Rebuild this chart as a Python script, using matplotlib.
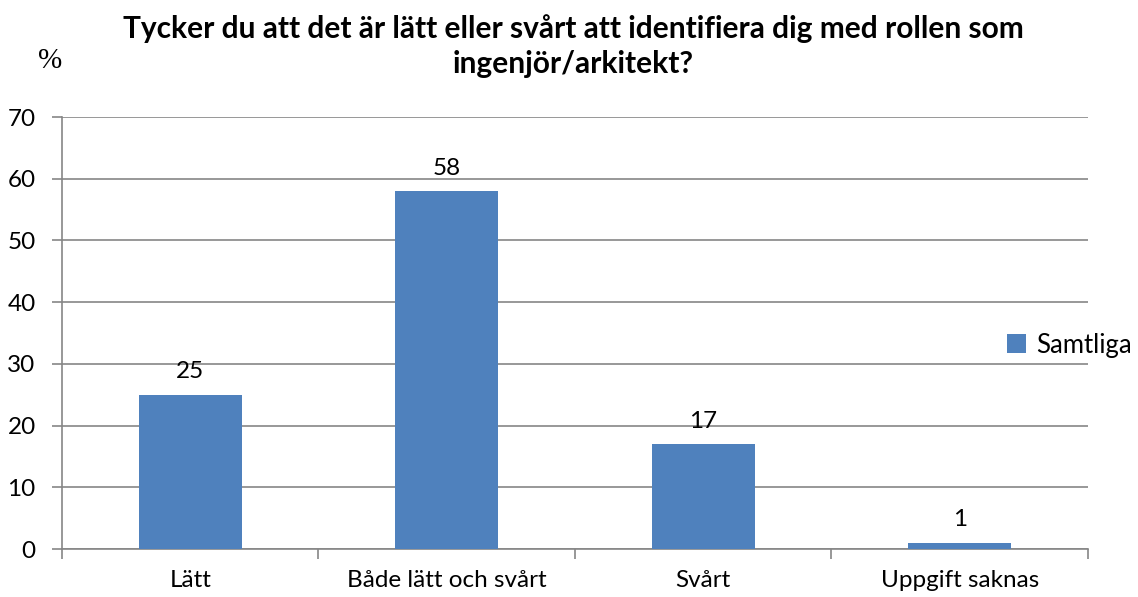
import matplotlib
matplotlib.use("Agg")
import matplotlib.pyplot as plt
import numpy as np

# Data
categories = ["Lätt", "Både lätt och svårt", "Svårt", "Uppgift saknas"]
values = [25, 58, 17, 1]
series_name = "Samtliga"
title = "Tycker du att det är lätt eller svårt att identifiera dig med rollen som\ningenjör/arkitekt?"

plt.rcParams["font.family"] = ["Lato", "DejaVu Sans"]
bar_color = "#4F81BD"
grid_color = "#868686"
fs = 17.5

fig = plt.figure(figsize=(11.38, 5.97), dpi=100)
ax = fig.add_axes([0.0545, 0.0804, 0.9015, 0.7236])

x = np.arange(len(categories))
bars = ax.bar(x, values, width=0.4, color=bar_color, label=series_name, zorder=3)

for xi, v in zip(x, values):
    ax.text(xi, v + 2.0, f"{v}", ha="center", va="bottom", fontsize=fs)

ax.set_xlim(-0.5, len(categories) - 0.5)
ax.set_ylim(0, 70)
ax.set_yticks(np.arange(0, 71, 10))
ax.yaxis.grid(True, color=grid_color, linewidth=1.2, zorder=0)
ax.tick_params(axis="y", labelsize=fs, length=7, width=1.2, color=grid_color, pad=12)

# category labels in the middle, ticks at the boundaries
ax.set_xticks(x)
ax.set_xticklabels(categories, fontsize=fs)
ax.tick_params(axis="x", length=0, pad=15)
ax.set_xticks(np.arange(-0.5, len(categories), 1), minor=True)
ax.tick_params(axis="x", which="minor", length=7, width=1.2, color=grid_color)

for side in ("top", "right"):
    ax.spines[side].set_visible(False)
for side in ("left", "bottom"):
    ax.spines[side].set_color(grid_color)
    ax.spines[side].set_linewidth(1.2)

fig.text(0.5035, 0.976, title, ha="center", va="top", fontsize=21.5,
         fontweight="bold", linespacing=1.3)
fig.text(0.044, 0.898, "%", family="Liberation Serif", fontsize=21, ha="center", va="center")

# legend right edge pinned near the figure edge
fig.legend(loc="center right", bbox_to_anchor=(1132 / 1138, 1 - 345 / 597), frameon=False,
           fontsize=18.5, handlelength=0.75, handleheight=0.75, handletextpad=0.4,
           borderaxespad=0, borderpad=0)

fig.savefig("out.png", dpi=100)
